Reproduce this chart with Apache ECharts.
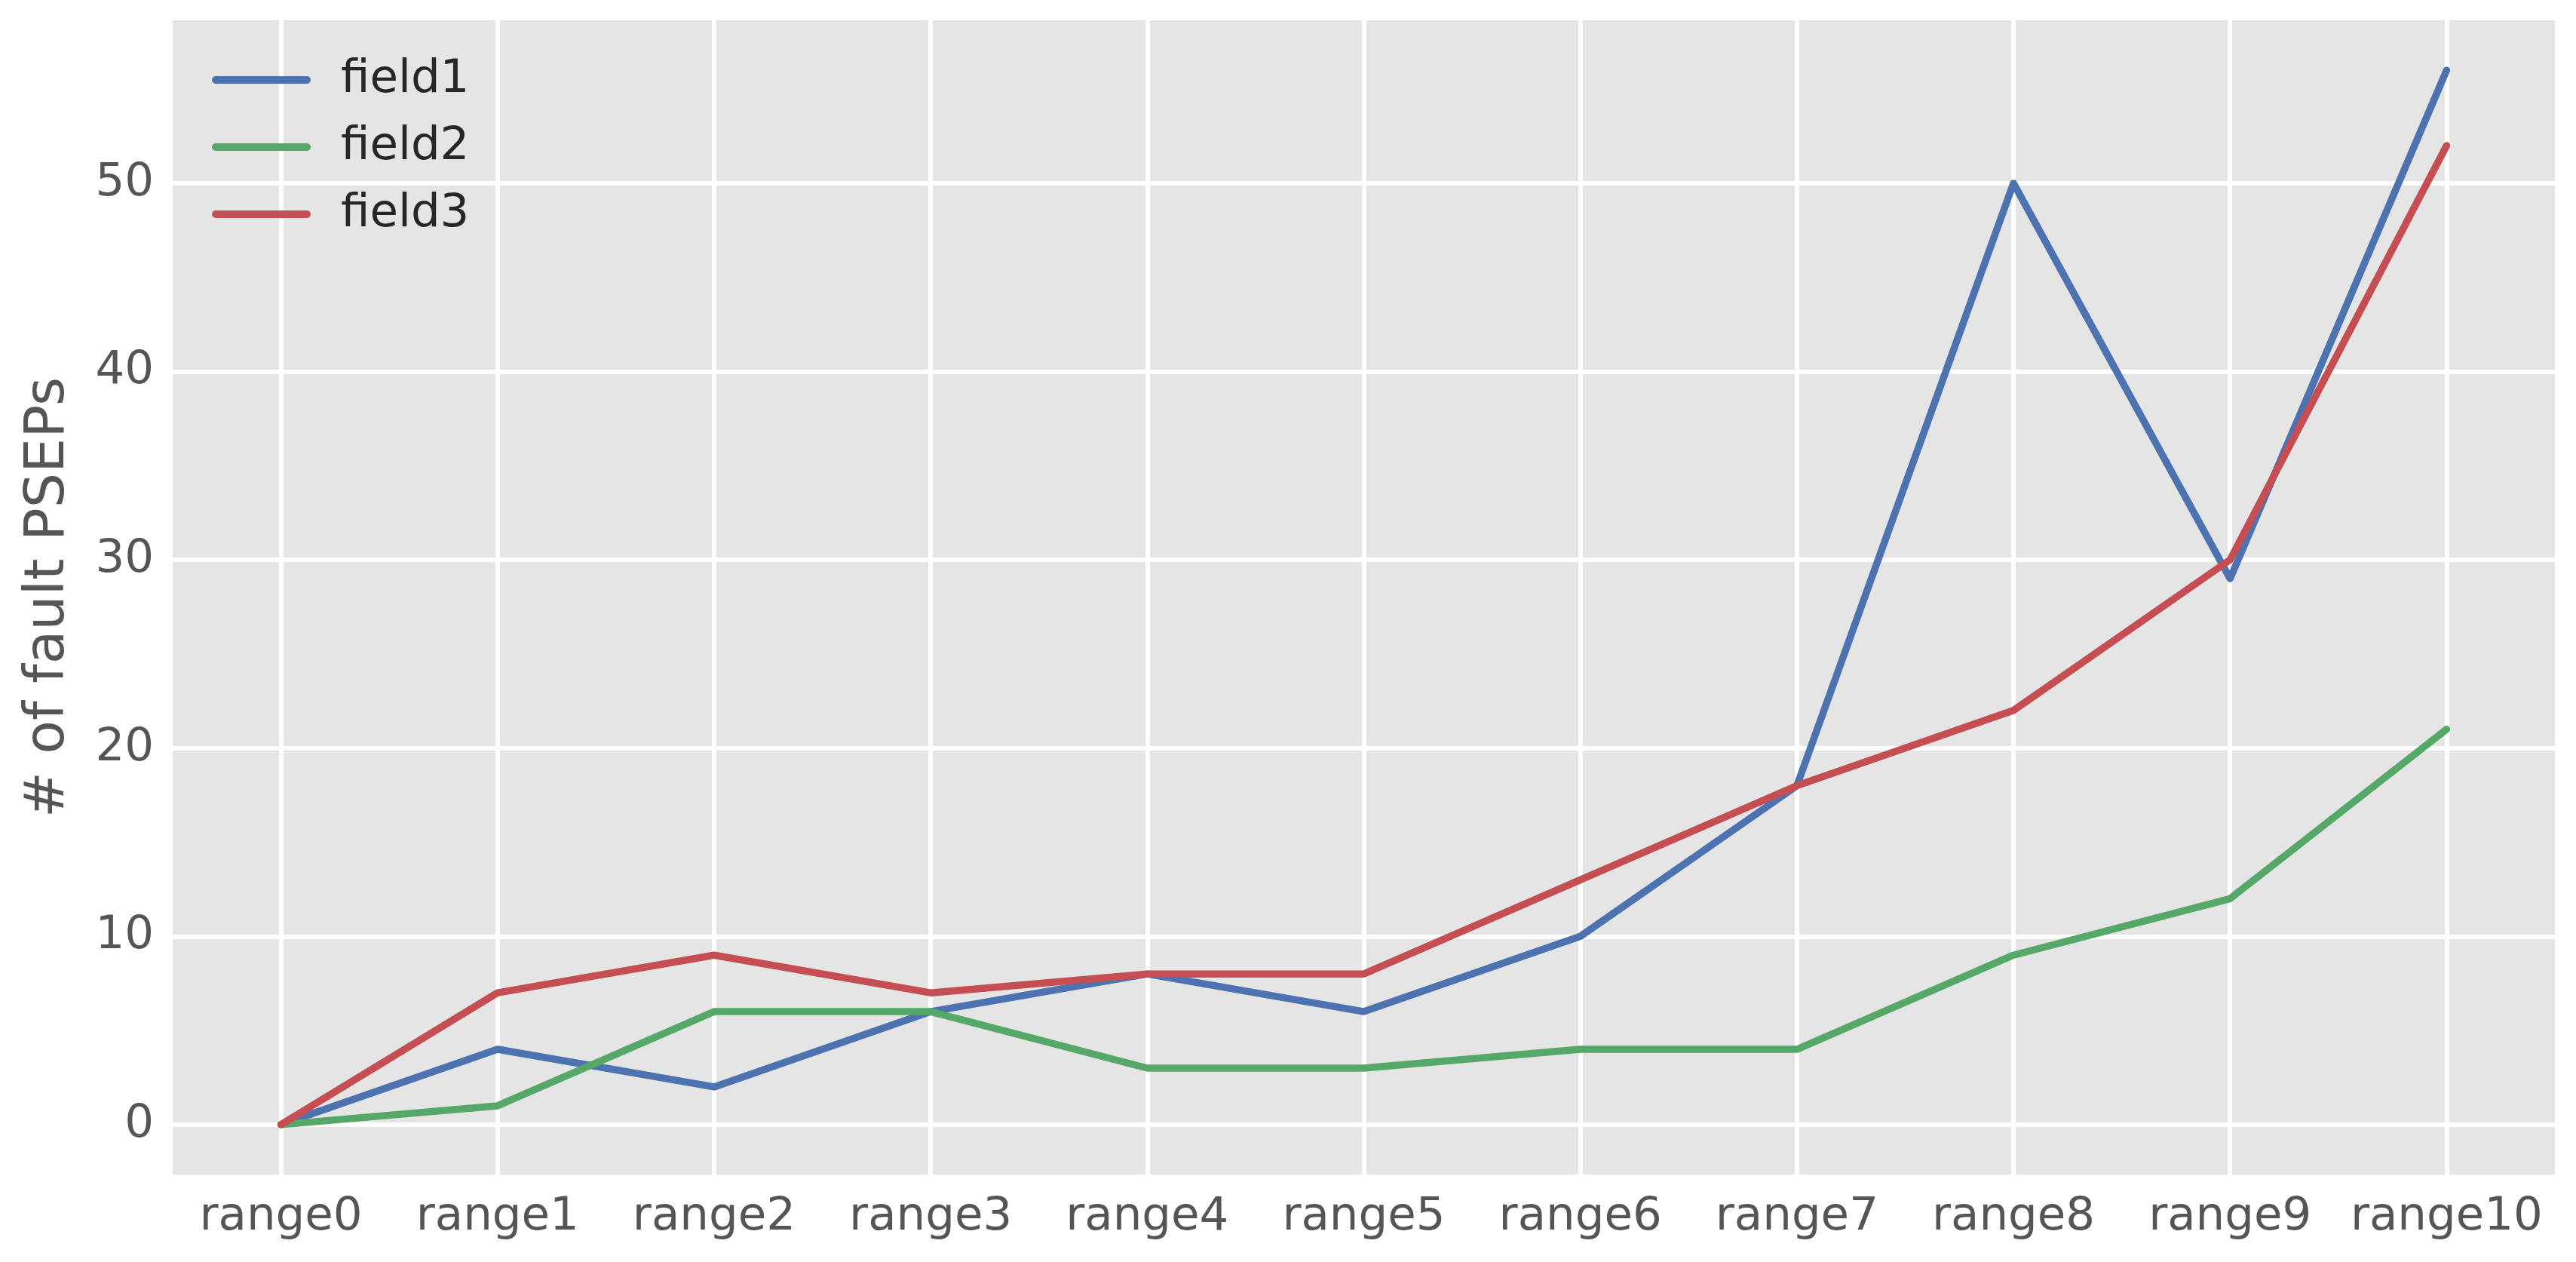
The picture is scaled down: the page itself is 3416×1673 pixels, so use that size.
<!DOCTYPE html>
<html>
<head>
<meta charset="utf-8">
<script src="https://cdn.jsdelivr.net/npm/echarts@6/dist/echarts.min.js"></script>
<style>
html,body{margin:0;padding:0;background:#fff;}
#chart{width:3416px;height:1673px;}
</style>
</head>
<body>
<div id="chart"></div>
<script>
const categories = ['range0','range1','range2','range3','range4','range5','range6','range7','range8','range9','range10'];
const seriesNames = ['field1','field2','field3'];
const field1 = [0, 4, 2, 6, 8, 6, 10, 18, 50, 29, 56];
const field2 = [0, 1, 6, 6, 3, 3, 4, 4, 9, 12, 21];
const field3 = [0, 7, 9, 7, 8, 8, 13, 18, 22, 30, 52];
const yTitle = '# of fault PSEPs';

const colors = ['#4C72B0', '#55A868', '#C44E52'];
const font = 'DejaVu Sans';
const toPairs = arr => arr.map((v, i) => [i, v]);

const chart = echarts.init(document.getElementById('chart'), null, {renderer: 'canvas'});
chart.setOption({
  animation: false,
  backgroundColor: '#ffffff',
  color: colors,
  grid: {
    left: 229, top: 27, right: 28, bottom: 116,
    containLabel: false,
    outerBoundsMode: 'none',
    show: true, backgroundColor: '#E5E5E5', borderWidth: 0
  },
  legend: {
    orient: 'vertical',
    left: 276, top: 69,
    itemWidth: 131, itemHeight: 10, itemGap: 25,
    icon: 'path://M5,0H126A5,5,0,0,1,126,10H5A5,5,0,0,1,5,0Z',
    data: seriesNames,
    textStyle: {fontFamily: font, fontSize: 61, lineHeight: 64, color: '#262626', padding: [0, 0, 0, 35]}
  },
  xAxis: {
    type: 'value',
    min: -0.5, max: 10.5,
    minInterval: 1, maxInterval: 1,
    axisLine: {show: false},
    axisTick: {show: false},
    axisLabel: {
      fontFamily: font, fontSize: 61, color: '#555555', margin: 27,
      showMinLabel: false, showMaxLabel: false,
      formatter: v => (Number.isInteger(v) && categories[v] !== undefined) ? categories[v] : ''
    },
    splitLine: {show: true, showMinLine: false, showMaxLine: false, lineStyle: {color: '#ffffff', width: 6}}
  },
  yAxis: {
    type: 'value',
    min: -2.65, max: 58.65,
    minInterval: 10, maxInterval: 10,
    name: yTitle,
    nameLocation: 'middle',
    nameRotate: 90,
    nameGap: 127,
    nameTextStyle: {fontFamily: font, fontSize: 73, color: '#555555'},
    axisLine: {show: false},
    axisTick: {show: false},
    axisLabel: {
      fontFamily: font, fontSize: 61, color: '#555555', margin: 25,
      showMinLabel: false, showMaxLabel: false,
      formatter: v => (Math.abs(v % 10) < 1e-9) ? String(v) : ''
    },
    splitLine: {show: true, showMinLine: false, showMaxLine: false, lineStyle: {color: '#ffffff', width: 6}}
  },
  series: [field1, field2, field3].map((arr, k) => ({
    name: seriesNames[k],
    type: 'line',
    data: toPairs(arr),
    symbol: 'none',
    lineStyle: {width: 9.5, color: colors[k], cap: 'round', join: 'round'},
    itemStyle: {color: colors[k]},
    z: 2 + k
  }))
});
</script>
</body>
</html>
